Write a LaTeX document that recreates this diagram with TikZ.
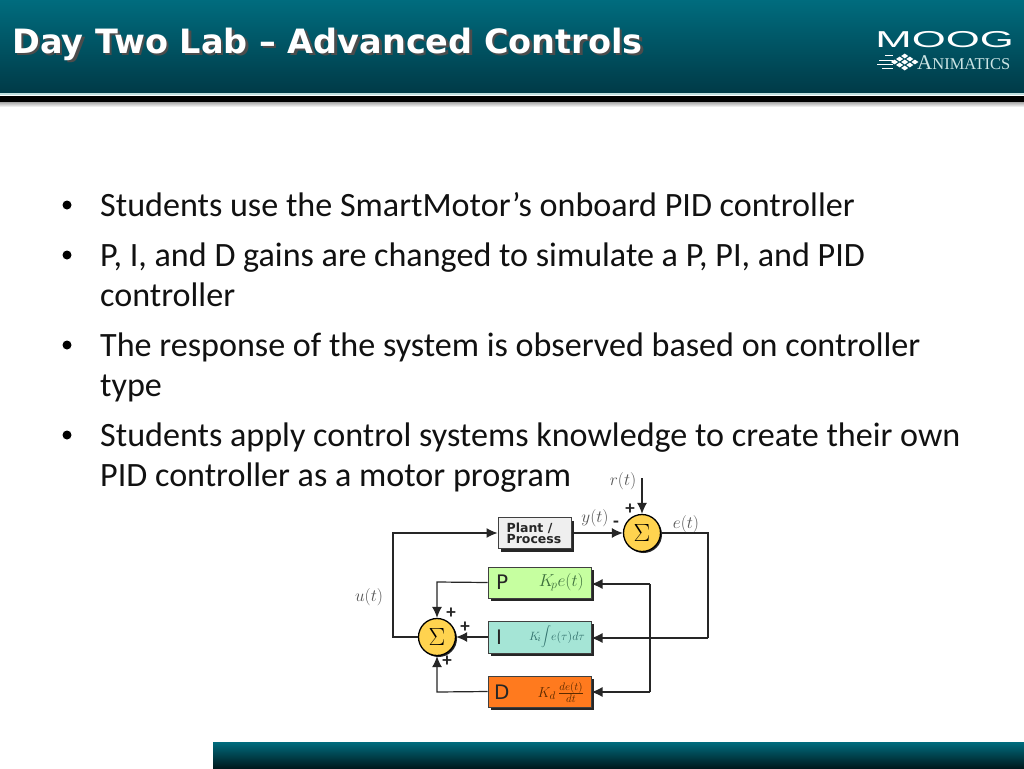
\documentclass[tikz,border=0pt]{standalone}
\usepackage{fontspec}
\setmainfont{Carlito}
\newfontfamily\titlefont{DejaVu Sans}
\newfontfamily\seriffont{Liberation Serif}
\newfontfamily\moogfont{Liberation Sans}
\newfontfamily\labelfont{DejaVu Sans}
\usetikzlibrary{arrows.meta,shadows,calc}
\definecolor{tealtop}{HTML}{006C7E}
\definecolor{tealbot}{HTML}{003A47}
\definecolor{barbot}{HTML}{001A1E}
\definecolor{bodytxt}{HTML}{111111}
\definecolor{mathgrey}{HTML}{555555}
\definecolor{sumyellow}{HTML}{FFD34F}
\definecolor{pgreen}{HTML}{C6FFA0}
\definecolor{icyan}{HTML}{A5E5D6}
\definecolor{dorange}{HTML}{FF7A1E}
\definecolor{plantgrey}{HTML}{EFEFEF}
\definecolor{pformula}{HTML}{3C6E3C}
\definecolor{iformula}{HTML}{2F6E6A}
\definecolor{dformula}{HTML}{5A2A00}
\newcommand{\titletext}{Day Two Lab – Advanced Controls}
\tikzset{
  x=1pt,y=-1pt,
  bodyline/.style={anchor=base west,inner sep=0pt,text=bodytxt,font=\fontsize{34.1}{34.1}\selectfont},
  bulletmark/.style={circle,fill=black,inner sep=0pt,minimum size=9pt},
  ctrlbox/.style={draw=black!75,line width=1pt,inner sep=0pt,minimum width=103pt,minimum height=31pt,
     copy shadow={shadow xshift=3pt,shadow yshift=-3pt,fill=black!85,draw=none}},
  sumnode/.style={circle,draw=black,line width=1.3pt,fill=sumyellow,minimum size=37pt,inner sep=0pt,
     copy shadow={shadow xshift=1.5pt,shadow yshift=-1.5pt,fill=black!85,draw=none},font=\fontsize{29}{29}\selectfont},
  wire/.style={draw=black!85,line width=1.2pt},
  arrowwire/.style={wire,-{Latex[length=11pt,width=10pt]}},
  mathlabel/.style={inner sep=0pt,text=mathgrey,font=\fontsize{16.5}{16.5}\selectfont},
  signmark/.style={inner sep=0pt,font=\fontsize{19}{19}\bfseries\selectfont,text=black!85},
  letter/.style={inner sep=0pt,anchor=west,font=\fontsize{20}{20}\selectfont\labelfont,text=black!85},
  formula/.style={inner sep=0pt,anchor=east},
  logodiamond/.style={fill=white,draw=none},
}
\begin{document}
\begin{tikzpicture}
\useasboundingbox (0,0) rectangle (1024,768);
\fill[white] (0,0) rectangle (1024,768);
% header band
\shade[top color=black!35,bottom color=white] (0,102) rectangle (1024,107);
\fill[black] (0,96) rectangle (1024,102);
\shade[top color=tealtop,bottom color=tealbot] (0,0) rectangle (1024,93);
\fill[white!75!teal] (0,93) rectangle (1024,95);
% bottom bar
\shade[top color=tealtop,bottom color=barbot] (213,742) rectangle (1024,768);
% title, its drop shadow set inside the same node
\node[anchor=base west,inner sep=0pt,text=white,font=\fontsize{33.5}{33.5}\bfseries\titlefont] (title) at (12,53)
  {\rlap{\kern2.5pt\raisebox{-2.5pt}{\textcolor{black!70}{\titletext}}}\titletext};
% logo
\node[anchor=base west,inner sep=0pt,text=white,xscale=1.9,font=\fontsize{23}{23}\moogfont] (moog) at (875,48) {MOOG};
\node[anchor=base west,inner sep=0pt,text=white!80!teal,font=\fontsize{16.5}{16.5}\seriffont] (anim) at (917,70) {\fontsize{21}{21}\selectfont A\fontsize{16.5}{16.5}\selectfont NIMATICS};
\foreach \dx/\dy in {0/0,6/-5,6/5,12/0,12/-10,12/10,18/-5,18/5,24/0}{
  \fill[logodiamond] ({891+\dx*.85},{62+\dy*.6}) -- ++(3.5,-2.4) -- ++(3.5,2.4) -- ++(-3.5,2.4) -- cycle;
}
\foreach \yy/\xs in {56/885,60/879,64/877,68/882}{
  \draw[white,line width=1pt] (\xs,\yy) -- (893,\yy);
}
% body text
\foreach \yy in {205,255,345,435}{\node[bulletmark] at (67,\yy) {};}
\node[bodyline] (l1) at (100,216.5) {Students use the SmartMotor’s onboard PID controller};
\node[bodyline] (l2) at (100,266.5) {P, I, and D gains are changed to simulate a P, PI, and PID};
\node[bodyline] (l3) at (100,306.5) {controller};
\node[bodyline] (l4) at (100,356.5) {The response of the system is observed based on controller};
\node[bodyline] (l5) at (100,396.5) {type};
\node[bodyline] (l6) at (100,446.5) {Students apply control systems knowledge to create their own};
\node[bodyline] (l7) at (100,486.5) {PID controller as a motor program};
% diagram
\node[ctrlbox,fill=plantgrey,minimum width=73pt] (plant) at (534.5,533) {};
\node[inner sep=0pt,align=left,font=\fontsize{12.5}{11}\bfseries\labelfont,text=black!85] (planttxt) at (534,533) {Plant /\\Process};
\node[sumnode] (sum1) at (642,533) {$\Sigma$};
\node[sumnode] (sum2) at (437,637) {$\Sigma$};
\node[ctrlbox,fill=pgreen] (pbox) at (539.5,582.5) {};
\node[ctrlbox,fill=icyan,minimum height=32pt] (ibox) at (539.5,637) {};
\node[ctrlbox,fill=dorange] (dbox) at (539.5,691.5) {};
\node[letter] (pl) at (496,582) {P};
\node[letter] (il) at (496,637) {I};
\node[letter] (dl) at (494,692) {D};
\node[formula,text=pformula,font=\fontsize{16.5}{16.5}\selectfont] (pf) at (584,582) {$K_{\!p}e(t)$};
\node[formula,text=iformula,font=\fontsize{12.5}{12.5}\selectfont] (if) at (585,637) {$K_{\!i}\!\displaystyle\int\! e(\tau)d\tau$};
\node[formula,text=dformula,font=\fontsize{15}{15}\selectfont] (df) at (584,692) {$K_{d}\,\frac{de(t)}{dt}$};
\coordinate (rtop) at (642,478);
\coordinate (eright) at (708,533);
\coordinate (ebottom) at (708,638);
\coordinate (ptop) at (650,584);
\coordinate (dbot) at (650,692);
\coordinate (pcorner) at (437,582);
\coordinate (dcorner) at (437,692);
\coordinate (uleft) at (393,637);
\coordinate (utop) at (393,533);
\draw[arrowwire] (rtop) -- (sum1.north);
\draw[arrowwire] (plant.east) -- (sum1.west);
\draw[wire] (sum1.east) -- (eright) -- (ebottom);
\draw[arrowwire] (ebottom) -- (ibox.east |- ebottom);
\draw[wire] (ptop) -- (dbot);
\draw[arrowwire] (ptop) -- (pbox.east |- ptop);
\draw[arrowwire] (dbot) -- (dbox.east |- dbot);
\draw[arrowwire] (pbox.west) -- (pcorner) -- (sum2.north);
\draw[arrowwire] (ibox.west) -- (sum2.east);
\draw[arrowwire] (dbox.west) -- (dcorner) -- (sum2.south);
\draw[arrowwire] (sum2.west) -- (uleft) -- (utop) -- (plant.west);
\node[mathlabel] (rt) at (623,481) {$r(t)$};
\node[mathlabel] (yt) at (595,518) {$y(t)$};
\node[mathlabel] (et) at (686,524) {$e(t)$};
\node[mathlabel] (ut) at (369,597) {$u(t)$};
\node[signmark] (s1) at (630,509) {+};
\node[signmark] (s2) at (616,524) {-};
\node[signmark] (s3) at (451,613) {+};
\node[signmark] (s4) at (465,627) {+};
\node[signmark] (s5) at (447,661) {+};
\end{tikzpicture}
\end{document}
